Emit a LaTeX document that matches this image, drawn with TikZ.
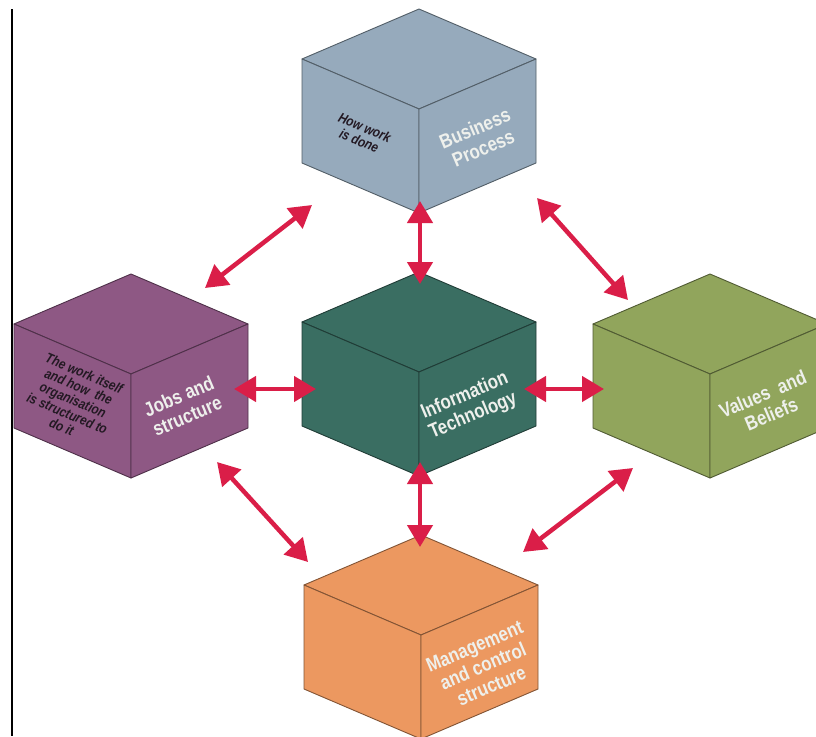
\documentclass[tikz,border=0pt]{standalone}
\usepackage{fontspec}
\setmainfont{Liberation Sans}
\newfontfamily\condfont[FakeStretch=0.84]{Liberation Sans}
\usetikzlibrary{arrows.meta}
\definecolor{bpcol}{RGB}{150,170,188}
\definecolor{itcol}{RGB}{58,110,98}
\definecolor{jscol}{RGB}{142,88,132}
\definecolor{vbcol}{RGB}{145,165,92}
\definecolor{mccol}{RGB}{236,152,96}
\definecolor{arrcol}{RGB}{218,30,72}
\definecolor{darktxt}{RGB}{35,25,35}
\definecolor{lighttxt}{RGB}{238,240,236}
\tikzset{
  cubeface/.style={fill=#1, draw=#1!55!black, line width=0.9pt, line join=round},
  lightlabel/.style={text=lighttxt, align=center, inner sep=0pt,
    font=\condfont\fontsize{20}{21.5}\selectfont\bfseries},
  darklabel/.style={text=darktxt, align=center, inner sep=0pt,
    font=\condfont\fontsize{14}{14.5}\selectfont\bfseries\itshape},
  dblarrow/.style={draw=arrcol, line width=4.5pt,
    {Triangle[length=22pt,width=25pt]}-{Triangle[length=22pt,width=25pt]}}
}
\newcommand\drawcube[4]{%
  \coordinate (#1-t) at (#2,#3);
  \coordinate (#1-l) at (#2-117,#3+50);
  \coordinate (#1-r) at (#2+117,#3+50);
  \coordinate (#1-f) at (#2,#3+100);
  \coordinate (#1-lb) at (#2-117,#3+154);
  \coordinate (#1-rb) at (#2+117,#3+154);
  \coordinate (#1-fb) at (#2,#3+204);
  \draw[cubeface=#4] (#1-t) -- (#1-r) -- (#1-f) -- (#1-l) -- cycle;
  \draw[cubeface=#4] (#1-l) -- (#1-f) -- (#1-fb) -- (#1-lb) -- cycle;
  \draw[cubeface=#4] (#1-f) -- (#1-r) -- (#1-rb) -- (#1-fb) -- cycle;
}
\begin{document}
\begin{tikzpicture}[x=1pt,y=-1pt]
\useasboundingbox (0,0) rectangle (816,736);
\clip (0,0) rectangle (816,736);
\fill[white] (0,0) rectangle (816,736);
% left border line
\coordinate (brd-t) at (11.5,9);
\coordinate (brd-b) at (11.5,736);
\draw[line width=2pt, black] (brd-t) -- (brd-b);

% cubes
\drawcube{bp}{419}{9}{bpcol}
\drawcube{it}{419}{272}{itcol}
\drawcube{js}{131}{274}{jscol}
\drawcube{vb}{710}{274}{vbcol}
\drawcube{mc}{421}{535}{mccol}

% labels
\node[darklabel, rotate=-23] (bp-side) at (362,134) {How work\\is done};
\node[lightlabel, rotate=23] (bp-lab) at (479,138) {Business\\Process};
\node[lightlabel, rotate=23] (it-lab) at (469,406) {Information\\Technology};
\node[darklabel, rotate=-23] (js-side) at (73,400) {The work itself\\and how\ \ the\\organisation\\is structured to\\do it};
\node[lightlabel, rotate=23] (js-lab) at (183,406) {Jobs and\\structure};
\node[lightlabel, rotate=23] (vb-lab) at (767,404) {Values\ \ and\\Beliefs};
\node[lightlabel, rotate=23] (mc-lab) at (483,666) {Management\\and control\\structure};

% arrow end points
\coordinate (a1s) at (312,205); \coordinate (a1e) at (205,288);
\coordinate (a2s) at (537,198); \coordinate (a2e) at (628,300);
\coordinate (a3s) at (217,462); \coordinate (a3e) at (308,562);
\coordinate (a4s) at (633,468); \coordinate (a4e) at (523,552);
\coordinate (v1s) at (420,201); \coordinate (v1e) at (420,284);
\coordinate (v2s) at (420,462); \coordinate (v2e) at (420,547);
\coordinate (h1s) at (234,389); \coordinate (h1e) at (316,389);
\coordinate (h2s) at (524,389); \coordinate (h2e) at (604,389);

\draw[dblarrow] (a1s) -- (a1e);
\draw[dblarrow] (a2s) -- (a2e);
\draw[dblarrow] (a3s) -- (a3e);
\draw[dblarrow] (a4s) -- (a4e);
\draw[dblarrow] (v1s) -- (v1e);
\draw[dblarrow] (v2s) -- (v2e);
\draw[dblarrow] (h1s) -- (h1e);
\draw[dblarrow] (h2s) -- (h2e);
\end{tikzpicture}
\end{document}
